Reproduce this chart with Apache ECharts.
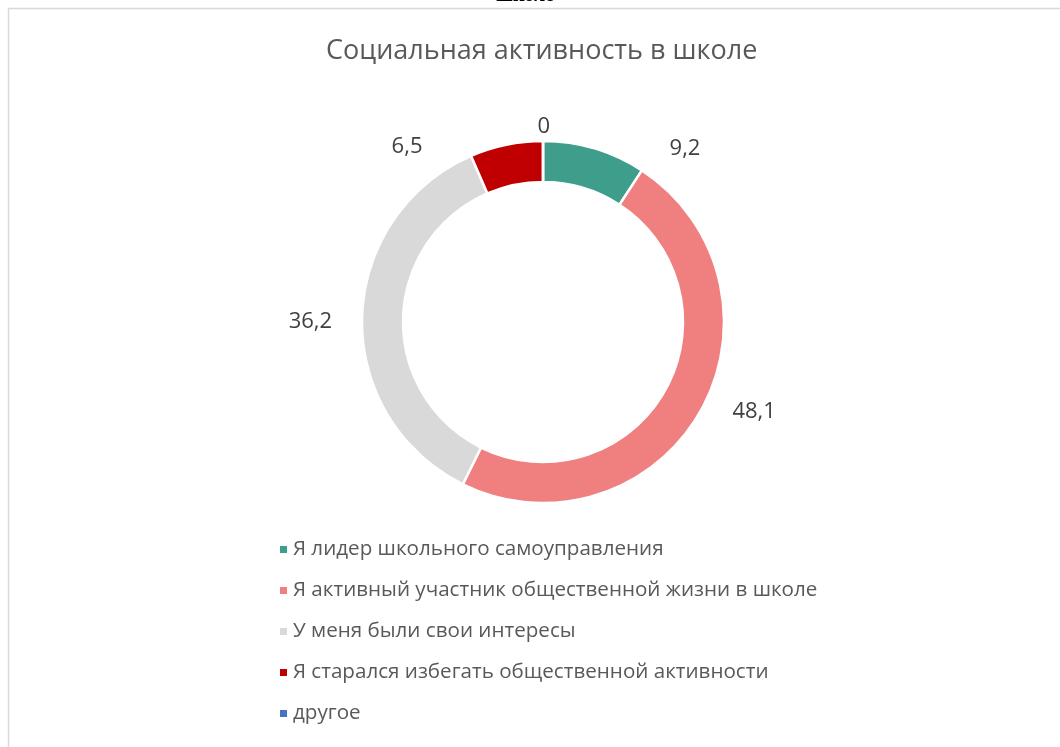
<!DOCTYPE html>
<html>
<head>
<meta charset="utf-8">
<script src="https://cdn.jsdelivr.net/npm/echarts@6/dist/echarts.min.js"></script>
<style>
  html, body { margin: 0; padding: 0; background: #fff; }
  #chart { width: 1060px; height: 747px; }
</style>
</head>
<body>
<div id="chart"></div>
<script>
  // данные диаграммы
  var categories = [
    'Я лидер школьного самоуправления',
    'Я активный участник общественной жизни в школе',
    'У меня были свои интересы',
    'Я старался избегать общественной активности',
    'другое'
  ];
  var values = [9.2, 48.1, 36.2, 6.5, 0];
  var colors = ['#3e9e8b', '#f08080', '#d9d9d9', '#c00000', '#4472c4'];

  var myChart = echarts.init(document.getElementById('chart'));
  var font = 'Open Sans';
  // сдвиг подписей, как в Excel (best fit)
  var labelShift = [[60, 14], [9, -7], [-5, 5], [-70, 16], [18, 0]];

  myChart.setOption({
    color: colors,
    title: {
      text: 'Социальная активность в школе',
      left: 321,
      top: 33,
      textStyle: {
        fontFamily: font,
        fontSize: 27,
        fontWeight: 'normal',
        color: '#595959'
      }
    },
    graphic: [
      {
        // рамка
        type: 'rect',
        shape: { x: 8.5, y: 8.5, width: 1100, height: 800 },
        style: { fill: 'none', stroke: '#d9d9d9', lineWidth: 1.5 },
        silent: true
      },
      {
        // обрезанная подпись сверху
        type: 'text',
        left: 'center',
        top: -14,
        style: {
          text: 'школе»',
          font: 'bold 20px "Liberation Serif"',
          fill: '#000'
        },
        silent: true
      }
    ],
    legend: {
      orient: 'vertical',
      left: 273,
      top: 534,
      itemWidth: 9,
      itemHeight: 9,
      itemGap: 20,
      icon: 'rect',
      data: categories,
      textStyle: {
        fontFamily: font,
        fontSize: 20.6,
        color: '#595959'
      }
    },
    series: [
      {
        type: 'pie',
        center: [543, 322],
        radius: [140, 181],
        startAngle: 90,
        avoidLabelOverlap: false,
        itemStyle: {
          borderColor: '#fff',
          borderWidth: 2.5
        },
        label: {
          show: true,
          position: 'outside',
          fontFamily: font,
          fontSize: 22,
          color: '#404040',
          formatter: function (p) {
            return String(p.value).replace('.', ',');
          }
        },
        labelLine: { show: false, length: 14, length2: 6 },
        labelLayout: function (p) {
          var s = labelShift[p.dataIndex];
          return { dx: s[0], dy: s[1] };
        },
        emphasis: { disabled: true },
        data: categories.map(function (name, i) {
          return { name: name, value: values[i] };
        })
      }
    ]
  });
</script>
</body>
</html>
